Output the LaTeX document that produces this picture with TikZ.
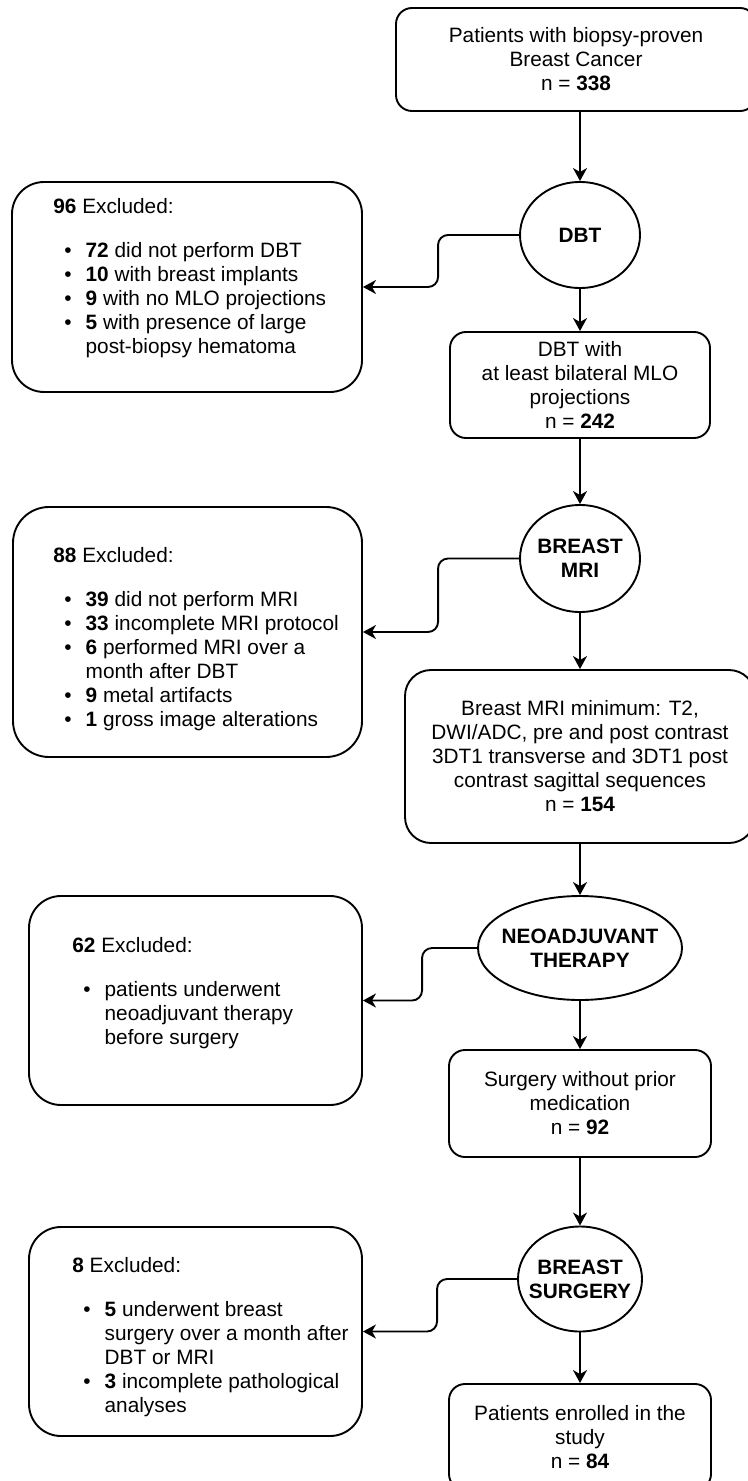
\documentclass[tikz,border=0pt]{standalone}
\usepackage{fontspec}
\setmainfont{Liberation Sans}
\usetikzlibrary{positioning,calc,arrows.meta,shapes.geometric}
\newcommand{\flowfont}{\fontsize{10.4}{12}\selectfont}
\tikzset{box/.style={draw=black,line width=0.95pt,rounded corners=8pt,align=center,inner sep=2pt,font=\flowfont}, excl/.style={draw=black,line width=0.95pt,rounded corners=16pt}, exltext/.style={anchor=base west,inner sep=0pt,font=\flowfont}, decision/.style={ellipse,draw=black,line width=0.95pt,align=center,inner xsep=-6pt,inner ysep=0pt,font=\flowfont\bfseries}, arr/.style={line width=0.95pt,-{Stealth[length=6.5pt,width=7pt,inset=2pt]}}}

\begin{document}
\begin{tikzpicture}[x=0.5pt,y=-0.5pt]
\useasboundingbox (0,0) rectangle (748,1481);
% main column
\node[box,minimum width=180pt,minimum height=51.5pt] (start) at (576,59.5) {Patients with biopsy-proven\\Breast Cancer\\n = \textbf{338}};
\node[decision,minimum width=60pt,minimum height=53pt] (dbt) at (580,235) {DBT};
\node[box,minimum width=130pt,minimum height=53pt] (dbtok) at (580,385) {DBT with\\at least bilateral MLO\\projections\\n = \textbf{242}};
\node[decision,minimum width=60pt,minimum height=53.5pt] (mri) at (580,558.5) {BREAST\\MRI};
\node[box,rounded corners=13pt,minimum width=175pt,minimum height=86.5pt] (mriok) at (580,756.5) {Breast MRI minimum: T2,\\DWI/ADC, pre and post contrast\\3DT1 transverse and 3DT1 post\\contrast sagittal sequences\\n = \textbf{154}};
\node[decision,minimum width=102pt,minimum height=52pt] (neo) at (580,948) {NEOADJUVANT\\THERAPY};
\node[box,minimum width=131pt,minimum height=53.5pt] (surg) at (580,1103.5) {Surgery without prior\\medication\\n = \textbf{92}};
\node[decision,minimum width=62pt,minimum height=52.5pt] (bsurg) at (580,1279) {BREAST\\SURGERY};
\node[box,minimum width=131pt,minimum height=53pt] (final) at (580,1437) {Patients enrolled in the\\study\\n = \textbf{84}};
% excluded boxes
\node[excl,minimum width=175pt,minimum height=105pt] (ex1) at (187,287) {};
\node[excl,rounded corners=18pt,minimum width=174.5pt,minimum height=125pt] (ex2) at (187.5,632) {};
\node[excl,minimum width=166.5pt,minimum height=104.5pt] (ex3) at (195.5,1000.5) {};
\node[excl,minimum width=166.5pt,minimum height=104.5pt] (ex4) at (195.5,1331.5) {};
\node[exltext] (ex1txt) at (53,214) {\begin{tabular}[t]{@{\hspace{5.5pt}}l@{\hspace{7pt}}l@{}}
\multicolumn{2}{@{}l@{}}{\textbf{96} Excluded:}\\[10pt]
\textbullet & \textbf{72} did not perform DBT\\
\textbullet & \textbf{10} with breast implants\\
\textbullet & \textbf{9} with no MLO projections\\
\textbullet & \textbf{5} with presence of large\\
 & post-biopsy hematoma
\end{tabular}};
\node[exltext] (ex2txt) at (53,562) {\begin{tabular}[t]{@{\hspace{5.5pt}}l@{\hspace{7pt}}l@{}}
\multicolumn{2}{@{}l@{}}{\textbf{88} Excluded:}\\[10pt]
\textbullet & \textbf{39} did not perform MRI\\
\textbullet & \textbf{33} incomplete MRI protocol\\
\textbullet & \textbf{6} performed MRI over a\\
 & month after DBT\\
\textbullet & \textbf{9} metal artifacts\\
\textbullet & \textbf{1} gross image alterations
\end{tabular}};
\node[exltext] (ex3txt) at (72,952) {\begin{tabular}[t]{@{\hspace{5.5pt}}l@{\hspace{7pt}}l@{}}
\multicolumn{2}{@{}l@{}}{\textbf{62} Excluded:}\\[10pt]
\textbullet & patients underwent\\
 & neoadjuvant therapy\\
 & before surgery
\end{tabular}};
\node[exltext] (ex4txt) at (72,1272) {\begin{tabular}[t]{@{\hspace{5.5pt}}l@{\hspace{7pt}}l@{}}
\multicolumn{2}{@{}l@{}}{\textbf{8} Excluded:}\\[10pt]
\textbullet & \textbf{5} underwent breast\\
 & surgery over a month after\\
 & DBT or MRI\\
\textbullet & \textbf{3} incomplete pathological\\
 & analyses
\end{tabular}};
% connectors
\draw[arr] (start.south -| dbt.north) -- (dbt.north);
\draw[arr] (dbt.south) -- (dbtok.north);
\draw[arr] (dbtok.south) -- (mri.north);
\draw[arr] (mri.south) -- (mriok.north);
\draw[arr] (mriok.south) -- (neo.north);
\draw[arr] (neo.south) -- (surg.north);
\draw[arr] (surg.south) -- (bsurg.north);
\draw[arr] (bsurg.south) -- (final.north);
\draw[arr,rounded corners=5pt] (dbt.west) -- ++(-81,0) |- (ex1.east);
\draw[arr,rounded corners=5pt] (mri.west) -- ++(-81,0) |- (ex2.east);
\draw[arr,rounded corners=5pt] (neo.west) -- ++(-55,0) |- (ex3.east);
\draw[arr,rounded corners=5pt] (bsurg.west) -- ++(-80,0) |- (ex4.east);
\end{tikzpicture}
\end{document}
